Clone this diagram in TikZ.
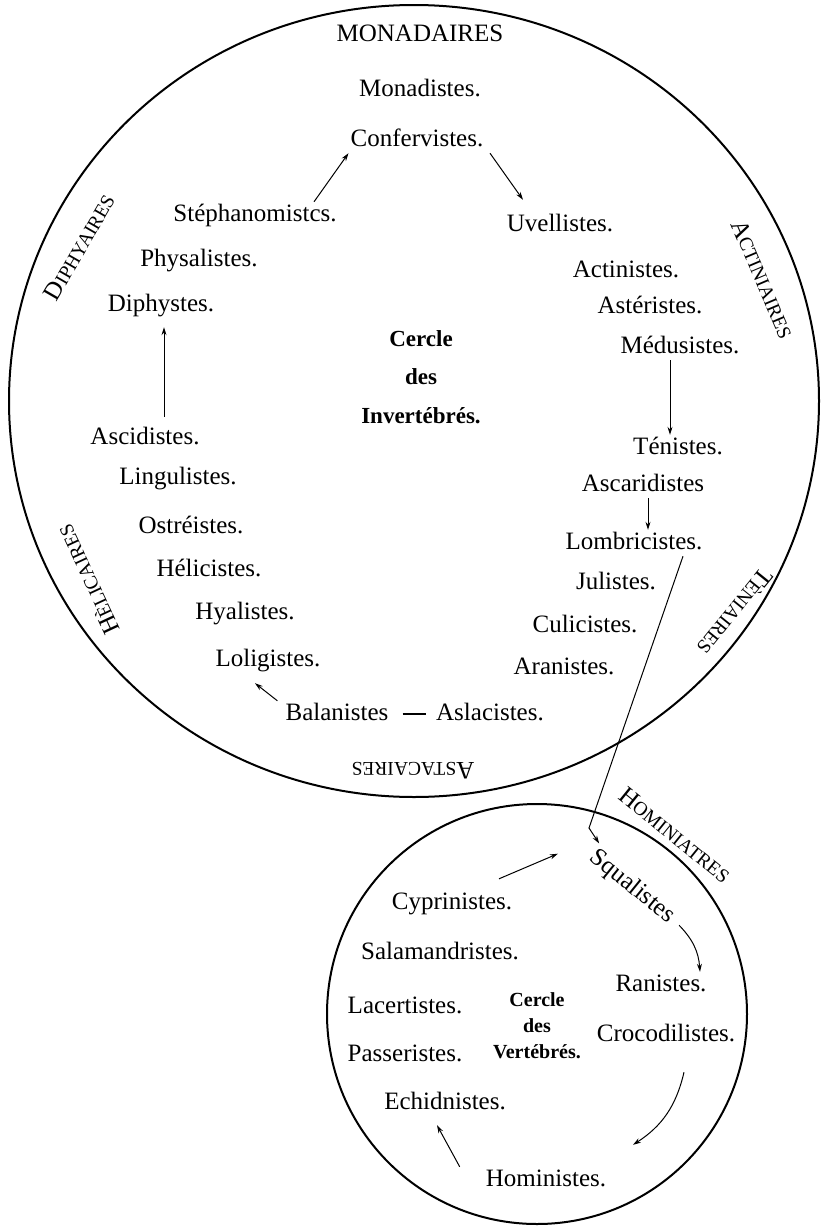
\documentclass[tikz,border=0pt]{standalone}
\usepackage{fontspec}
\setmainfont{Liberation Serif}
\newfontfamily\oldserif{Liberation Serif}
\usetikzlibrary{arrows.meta}
\newcommand{\fakesc}[2]{#1{\fontsize{19.5}{20}\selectfont #2}}

\begin{document}
\begin{tikzpicture}[x=1pt, y=-1pt, >={Stealth[length=8pt,width=5pt]},
	taxon/.style={font=\oldserif\fontsize{25}{30}\selectfont, text height=17pt, text depth=5pt, inner sep=2pt},
	order/.style={font=\oldserif\fontsize{25}{30}\selectfont, inner sep=1pt},
	bigtitle/.style={font=\oldserif\fontsize{23}{38.5}\selectfont\bfseries, align=center},
	smalltitle/.style={font=\oldserif\fontsize{20}{26}\selectfont\bfseries, align=center},
	link/.style={->, line width=1pt}]
	\useasboundingbox (0,0) rectangle (820,1226);

	%the two circles
	\draw[line width=2pt] (414,401) ellipse [x radius=405pt, y radius=396pt];
	\draw[line width=2pt] (537,1014) circle [radius=210pt];

	%orders round the circles
	\node[order] (monad) at (420,33) {MONADAIRES};
	\node[order, rotate=60] (diphy) at (79,247) {\fakesc{D}{IPHYAIRES}};
	\node[order, rotate=-67] (actin) at (763,279) {\fakesc{A}{CTINIAIRES}};
	\node[order, rotate=115] (helic) at (88,580) {\fakesc{H}{ÈLICAIRES}};
	\node[order, rotate=-129] (tenia) at (735,612) {\fakesc{T}{ÈNIAIRES}};
	\node[order, rotate=180] (astac) at (413,771) {\fakesc{A}{STACAIRES}};
	\node[order, rotate=-39] (homin) at (675,835) {\fakesc{H}{OMINIATRES}};

	%titles
	\node[bigtitle] (invert) at (421,377) {Cercle\\des\\Invertébrés.};
	\node[smalltitle] (vert) at (537,1026) {Cercle\\des\\Vertébrés.};

	%invertebrates
	\node[taxon] (monas) at (420,90) {Monadistes.};
	\node[taxon] (conf) at (417,140) {Confervistes.};
	\node[taxon] (steph) at (255,215) {Stéphanomistcs.};
	\node[taxon] (uvel) at (560,225) {Uvellistes.};
	\node[taxon] (physa) at (199,260) {Physalistes.};
	\node[taxon] (diphs) at (161,305) {Diphystes.};
	\node[taxon] (actis) at (626,271) {Actinistes.};
	\node[taxon] (aster) at (650,307) {Astéristes.};
	\node[taxon] (medus) at (680,347) {Médusistes.};
	\node[taxon] (ascid) at (145,438) {Ascidistes.};
	\node[taxon] (lingu) at (178,478) {Lingulistes.};
	\node[taxon] (ostre) at (191,527) {Ostréistes.};
	\node[taxon] (helis) at (209,570) {Hélicistes.};
	\node[taxon] (hyal) at (245,613) {Hyalistes.};
	\node[taxon] (lolig) at (268,660) {Loligistes.};
	\node[taxon] (balan) at (337,714) {Balanistes};
	\node[taxon] (aslac) at (490,714) {Aslacistes.};
	\node[taxon] (tenis) at (678,448) {Ténistes.};
	\node[taxon] (ascar) at (643,485) {Ascaridistes};
	\node[taxon] (lombr) at (634,543) {Lombricistes.};
	\node[taxon] (julis) at (616,583) {Julistes.};
	\node[taxon] (culic) at (585,626) {Culicistes.};
	\node[taxon] (arani) at (564,668) {Aranistes.};

	%vertebrates
	\node[taxon, rotate=-39] (squal) at (632,887) {Squalistes};
	\node[taxon] (cypr) at (452,903) {Cyprinistes.};
	\node[taxon] (salam) at (440,953) {Salamandristes.};
	\node[taxon] (rani) at (661,985) {Ranistes.};
	\node[taxon] (lacer) at (405,1007) {Lacertistes.};
	\node[taxon] (croc) at (666,1035) {Crocodilistes.};
	\node[taxon] (passe) at (405,1055) {Passeristes.};
	\node[taxon] (echid) at (445,1103) {Echidnistes.};
	\node[taxon] (homi) at (546,1180) {Hoministes.};

	%links in the big circle
	\draw[link] ([xshift=59pt]steph.north) -- (conf.south west);
	\draw[link] ([xshift=73pt]conf.south) -- ([xshift=-37pt,yshift=12pt]uvel.north);
	\draw[link] ([xshift=19pt,yshift=8pt]ascid.north) -- ([xshift=3pt,yshift=-9pt]diphs.south);
	\draw[link] ([xshift=-10pt]medus.south) -- ([xshift=-8pt]tenis.north);
	\draw[link] ([xshift=5pt]ascar.south) -- ([xshift=14pt]lombr.north);
	\draw[link] ([xshift=-6pt]balan.north west) -- ([xshift=-13pt,yshift=-10pt]lolig.south);
	\draw[line width=1.2pt, shorten <=12pt, shorten >=8pt] (balan) -- (aslac);

	%from one circle to the other
	\coordinate (kink) at (589,828);
	\draw[link] ([xshift=49pt]lombr.south) -- (kink) -- (squal.north west);

	%links in the small circle
	\draw[link] ([xshift=47pt,yshift=11pt]cypr.north) -- ([xshift=-33pt]squal.west);
	\draw[link] ([xshift=6pt,yshift=-5pt]squal.east) to[bend left=20] ([xshift=39pt]rani.north);
	\draw[link] ([xshift=18pt,yshift=-24pt]croc.south) to[bend left=22] ([xshift=87pt,yshift=22pt]homi.north);
	\draw[link] ([xshift=-24pt]homi.north west) -- ([xshift=-8pt,yshift=-9pt]echid.south);

\end{tikzpicture}
\end{document}
